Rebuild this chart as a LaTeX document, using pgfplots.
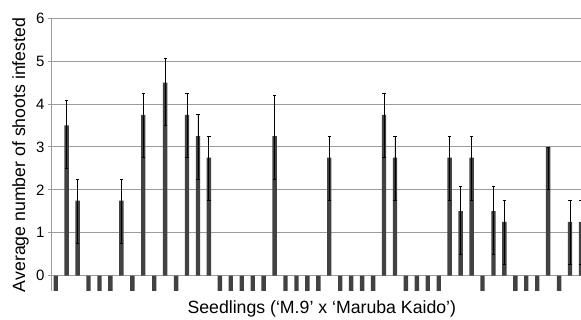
\documentclass[border=0pt]{standalone}
\usepackage{pgfplots}
\pgfplotsset{compat=1.18}
\usepackage{fontspec}
\setmainfont{Liberation Sans}
\definecolor{barc}{HTML}{424242}
\definecolor{gridc}{HTML}{9C9C9C}
\begin{document}
\begin{tikzpicture}
\begin{axis}[
 at={(0,0)}, anchor=south west,
 scale only axis, width=530pt, height=272.7pt,
 xmin=-0.43, xmax=48, ymin=-0.36, ymax=6,
 ytick={0,1,2,3,4,5,6}, xtick=\empty,
 ymajorgrids, major grid style={gridc, line width=0.9pt},
 axis x line*=bottom, x axis line style={draw=none},
 axis y line*=left, y axis line style={gridc, line width=0.9pt, -},
 tick align=outside, major tick length=3pt, ytick style={gridc, line width=0.9pt},
 tick label style={font=\fontsize{15}{15}\selectfont},
 /pgf/number format/assume math mode=true,
 xlabel={Seedlings (‘M.9’ x ‘Maruba Kaido’)},
 xlabel style={at={(axis description cs:0.511,-0.0843)}, anchor=base, font=\fontsize{17.7}{20}\selectfont},
 ylabel={Average number of shoots infested},
 ylabel style={at={(axis description cs:-0.049,0.499)}, anchor=base, font=\fontsize{17.7}{20}\selectfont},
 clip=true,
]
\addplot[ybar, bar width=0.4, bar shift=0pt, fill=barc, draw=none,
 error bars/.cd, y dir=both, y explicit,
 error bar style={black, line width=0.9pt},
 error mark options={rotate=90, mark size=1.6pt, black, line width=0.7pt}]
 coordinates {
 (1,3.5) += (0,0.58) -= (0,1)
 (2,1.75) += (0,0.5) -= (0,1)
 (6,1.75) += (0,0.5) -= (0,1)
 (8,3.75) += (0,0.5) -= (0,1)
 (10,4.5) += (0,0.57) -= (0,1)
 (12,3.75) += (0,0.5) -= (0,1)
 (13,3.25) += (0,0.5) -= (0,1)
 (14,2.75) += (0,0.5) -= (0,1)
 (20,3.25) += (0,0.95) -= (0,1)
 (25,2.75) += (0,0.5) -= (0,1)
 (30,3.75) += (0,0.5) -= (0,1)
 (31,2.75) += (0,0.5) -= (0,1)
 (36,2.75) += (0,0.5) -= (0,1)
 (37,1.5) += (0,0.57) -= (0,1)
 (38,2.75) += (0,0.5) -= (0,1)
 (40,1.5) += (0,0.57) -= (0,1)
 (41,1.25) += (0,0.5) -= (0,1)
 (45,3.0) += (0,0) -= (0,1)
 (47,1.25) += (0,0.5) -= (0,1)
 (48,1.25) += (0,0.5) -= (0,1)
 };
\addplot[ybar, bar width=0.4, bar shift=0pt, fill=barc, draw=none]
 coordinates {
 (0,-0.36) (3,-0.36) (4,-0.36) (5,-0.36) (7,-0.36) (9,-0.36) (11,-0.36)
 (15,-0.36) (16,-0.36) (17,-0.36) (18,-0.36) (19,-0.36)
 (21,-0.36) (22,-0.36) (23,-0.36) (24,-0.36)
 (26,-0.36) (27,-0.36) (28,-0.36) (29,-0.36)
 (32,-0.36) (33,-0.36) (34,-0.36) (35,-0.36)
 (39,-0.36) (42,-0.36) (43,-0.36) (44,-0.36) (46,-0.36)
 };
\end{axis}
\pgfresetboundingbox
\path (-51pt,-29pt) rectangle (530pt,291pt);
\end{tikzpicture}
\end{document}
